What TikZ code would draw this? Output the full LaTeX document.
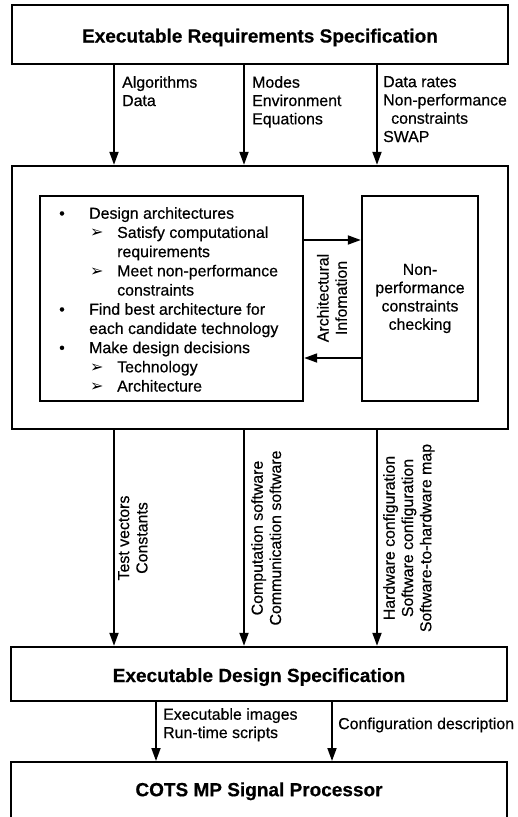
\documentclass[tikz,border=0pt]{standalone}
\usepackage{fontspec}
\setmainfont[FakeBold=0.5]{Liberation Sans}
\newfontfamily\symfont{DejaVu Sans}
\usetikzlibrary{arrows.meta}
\newcommand{\bul}{\makebox[30pt][l]{\textbullet}}
\newcommand{\subarr}{\hspace*{31pt}\makebox[27pt][l]{{\symfont\fontsize{16}{16}\selectfont ➢}}}
\newcommand{\cont}[1]{\hspace*{#1pt}}

\begin{document}
\begin{tikzpicture}[x=1pt,y=-1pt,
       box/.style={draw,line width=2.4pt,inner sep=0pt},
       ttl/.style={font=\fontsize{19}{22}\selectfont\bfseries,text height=18pt,text depth=2pt},
       lab/.style={font=\fontsize{15.9}{18.3}\selectfont,inner sep=0pt},
       arr/.style={line width=1.8pt,-{Triangle[length=13pt,width=9pt]}}]
       \clip(0,0)rectangle(518,817);
       \coordinate(a1)at(114,0);
       \coordinate(a2)at(244,0);
       \coordinate(a3)at(377,0);
       \coordinate(b1)at(156,0);
       \coordinate(b2)at(332,0);
       \coordinate(u)at(0,240);
       \coordinate(v)at(0,358);
       % boxes
       \node[box,ttl,minimum width=496pt,minimum height=59pt]at(260,34.5)(req){Executable Requirements Specification};
       \node[box,minimum width=496pt,minimum height=263pt]at(260,297.5)(main){};
       \node[box,minimum width=263pt,minimum height=205pt]at(171.5,298.5)(design){};
       \node[box,lab,align=center,minimum width=116pt,minimum height=205pt]at(420,298.5)(check){Non-\\performance\\constraints\\checking};
       \node[box,ttl,minimum width=496pt,minimum height=54pt]at(259,674)(eds){Executable Design Specification};
       \node[box,ttl,text height=14pt,text depth=15pt,minimum width=496pt,minimum height=69pt,anchor=north]at(259,761)(cots){COTS MP Signal Processor};
       % design list
       \node[lab,font=\fontsize{15.9}{19.2}\selectfont,anchor=north west,align=left]at(59,207)(designlist){\bul Design architectures\\
              \subarr Satisfy computational\\
              \cont{58}requirements\\
              \subarr Meet non-performance\\
              \cont{58}constraints\\
              \bul Find best architecture for\\
              \cont{30}each candidate technology\\
              \bul Make design decisions\\
              \subarr Technology\\
              \subarr Architecture};
       % arrows
       \draw[arr](a1|-req.south)--(a1|-main.north);
       \draw[arr](a2|-req.south)--(a2|-main.north);
       \draw[arr](a3|-req.south)--(a3|-main.north);
       \draw[arr](design.east|-u)--(check.west|-u);
       \draw[arr](check.west|-v)--(design.east|-v);
       \draw[arr](a1|-main.south)--(a1|-eds.north);
       \draw[arr](a2|-main.south)--(a2|-eds.north);
       \draw[arr](a3|-main.south)--(a3|-eds.north);
       \draw[arr](b1|-eds.south)--(b1|-cots.north);
       \draw[arr](b2|-eds.south)--(b2|-cots.north);
       % labels
       \node[lab,anchor=north west,align=left]at(122,76)(l1){Algorithms\\Data};
       \node[lab,anchor=north west,align=left]at(252,76)(l2){Modes\\Environment\\Equations};
       \node[lab,anchor=north west,align=left]at(383,76)(l3){Data rates\\Non-performance\\\cont{8}constraints\\SWAP};
       \node[lab,rotate=90,align=center]at(332,298)(archinfo){Architectural\\Infomation};
       \node[lab,rotate=90,anchor=north,align=center]at(118,538)(l4){Test vectors\\Constants};
       \node[lab,rotate=90,anchor=north,align=center]at(251,538)(l5){Computation software\\Communication software};
       \node[lab,rotate=90,anchor=north,align=center]at(383,538)(l6){Hardware configuration\\Software configuration\\Software-to-hardware map};
       \node[lab,anchor=north west,align=left]at(163,708)(l7){Executable images\\Run-time scripts};
       \node[lab,anchor=west]at(338,725)(l8){Configuration description};
      \end{tikzpicture}
\end{document}
